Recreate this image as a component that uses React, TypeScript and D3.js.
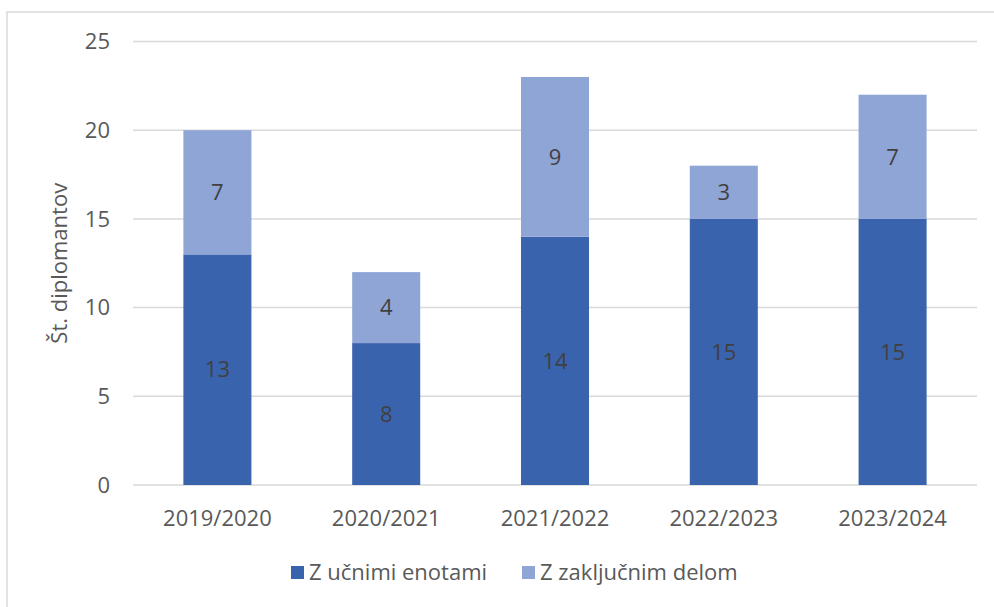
import React from "react";
import * as d3 from "d3";

const categories = ["2019/2020", "2020/2021", "2021/2022", "2022/2023", "2023/2024"];
const seriesNames = ["Z učnimi enotami", "Z zaključnim delom"];
const ucnimi = [13, 8, 14, 15, 15];
const zakljucnim = [7, 4, 9, 3, 7];
const yTicks = [0, 5, 10, 15, 20, 25];
const colors = ["#3A63AD", "#8FA5D5"];

const W = 994;
const H = 607;
const plot = { left: 133, right: 977, top: 41.5, bottom: 485 };
const FONT = "'Open Sans', 'Noto Sans', sans-serif";

export default function App() {
  const x = d3
    .scaleBand<string>()
    .domain(categories)
    .range([plot.left, plot.right])
    .paddingInner(0.597)
    .paddingOuter(0.2985);
  const y = d3.scaleLinear().domain([0, 25]).range([plot.bottom, plot.top]);

  const table = categories.map((c, i) => ({ cat: c, a: ucnimi[i], b: zakljucnim[i] }));
  const stack = d3.stack<any>().keys(["a", "b"])(table);

  return (
    <svg
      width={W}
      height={H}
      style={{ position: "absolute", left: 0, top: 0, background: "#fff" }}
      fontFamily={FONT}
    >
      <rect x={7} y={12} width={W} height={H} fill="#fff" stroke="#D9D9D9" strokeWidth={1.5} />
      {yTicks.map((t) => (
        <g key={t}>
          <line x1={plot.left} x2={plot.right} y1={y(t)} y2={y(t)} stroke="#D9D9D9" strokeWidth={1.5} />
          <text x={110} y={y(t)} dy="0.35em" textAnchor="end" fontSize={22} fill="#595959">
            {t}
          </text>
        </g>
      ))}
      <text
        transform={`translate(67,${(plot.top + plot.bottom) / 2}) rotate(-90)`}
        textAnchor="middle"
        fontSize={22}
        fill="#595959"
      >
        Št. diplomantov
      </text>
      {stack.map((s, si) =>
        s.map((d: any, i: number) => (
          <g key={`${si}-${i}`}>
            <rect
              x={x(categories[i])}
              width={x.bandwidth()}
              y={y(d[1])}
              height={y(d[0]) - y(d[1])}
              fill={colors[si]}
            />
            <text
              x={(x(categories[i]) as number) + x.bandwidth() / 2}
              y={(y(d[0]) + y(d[1])) / 2}
              dy="0.35em"
              textAnchor="middle"
              fontSize={22}
              fill="#404040"
            >
              {d[1] - d[0]}
            </text>
          </g>
        ))
      )}
      {categories.map((c) => (
        <text
          key={c}
          x={(x(c) as number) + x.bandwidth() / 2}
          y={526}
          textAnchor="middle"
          fontSize={22}
          fill="#595959"
        >
          {c}
        </text>
      ))}
      {seriesNames.map((n, i) => {
        const lx = [291, 522][i];
        return (
          <g key={n}>
            <rect x={lx} y={566} width={13} height={13} fill={colors[i]} />
            <text x={lx + 18} y={580} fontSize={22} fill="#595959">
              {n}
            </text>
          </g>
        );
      })}
    </svg>
  );
}
